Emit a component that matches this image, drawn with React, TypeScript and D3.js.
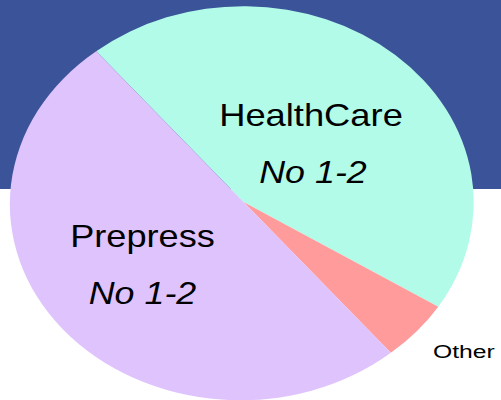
import React from 'react';
import * as d3 from 'd3';

const categories = ['HealthCare', 'Other', 'Prepress'];
const shares = [45, 5, 50];
const sublabels = ['No 1-2', '', 'No 1-2'];
const colors = ['#b2fbe9', '#ff9b9b', '#dfc3fd'];

const width = 501;
const height = 400;

// stretched slide text: x, baseline, size, horizontal scale
const Label = ({ x, y, size, sx, italic, anchor, children }: any) => (
  <g transform={`translate(${x},${y}) scale(${sx},1)`}>
    <text
      x={0}
      y={0}
      fontSize={size}
      fontStyle={italic ? 'italic' : 'normal'}
      textAnchor={anchor || 'middle'}
    >
      {children}
    </text>
  </g>
);

export default function App() {
  const cx = 243.5;
  const cy = 202;
  const rx = 230.5;
  const ry = 196;

  const pie = d3.pie<number>()
    .sort(null)
    .startAngle((-39.7 * Math.PI) / 180)
    .endAngle(((360 - 39.7) * Math.PI) / 180);
  const arcs = pie(shares);
  const arc = d3.arc<d3.PieArcDatum<number>>().innerRadius(0).outerRadius(1);

  const font = '"Liberation Sans", Arial, sans-serif';

  return (
    <svg
      width={width}
      height={height}
      style={{ position: 'fixed', left: 0, top: 0, background: '#ffffff' }}
    >
      <rect x={0} y={0} width={width} height={189} fill="#3b5499" />
      <g transform={`translate(${cx},${cy}) scale(${rx},${ry})`}>
        {arcs.map((a, i) => (
          <path key={categories[i]} d={arc(a) || ''} fill={colors[i]} />
        ))}
      </g>
      <g fontFamily={font} fill="#000">
        <Label x={311} y={126} size={32} sx={1.135}>{categories[0]}</Label>
        <Label x={313} y={183} size={32} sx={1.12} italic>{sublabels[0]}</Label>
        <Label x={142.5} y={247} size={32} sx={1.13}>{categories[2]}</Label>
        <Label x={142.5} y={304} size={32} sx={1.12} italic>{sublabels[2]}</Label>
        <Label x={433} y={358} size={19} sx={1.3} anchor="start">{categories[1]}</Label>
      </g>
    </svg>
  );
}
